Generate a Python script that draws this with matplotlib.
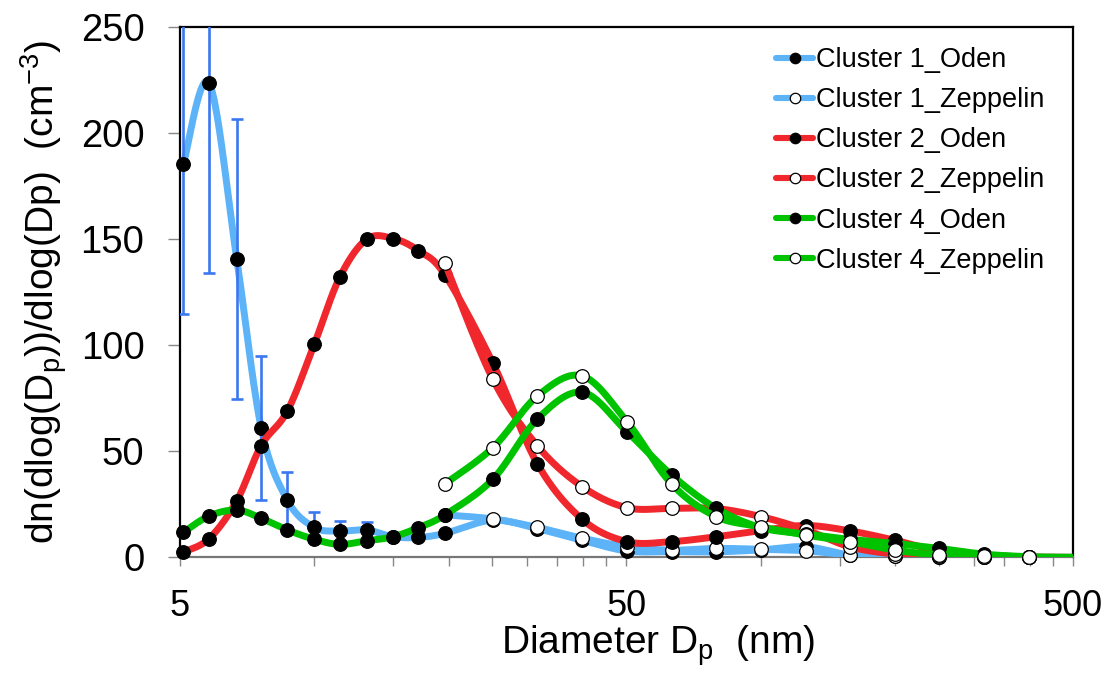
import numpy as np
import matplotlib
matplotlib.use("Agg")
import matplotlib.pyplot as plt
from matplotlib.lines import Line2D
from matplotlib.ticker import FixedLocator, FixedFormatter, NullFormatter

plt.rcParams['font.family'] = ['Liberation Sans', 'DejaVu Sans']
plt.rcParams['mathtext.default'] = 'regular'

# particle diameter bins (nm)
dp_oden = [5.09, 5.81, 6.70, 7.60, 8.70, 10.0, 11.4, 13.1, 15.0, 17.1, 19.6,
           25.1, 31.6, 39.8, 50.1, 63.1, 79.4, 100, 126, 158, 200, 251, 316, 398, 500]
dp_zep = [19.6, 25.1, 31.6, 39.8, 50.1, 63.1, 79.4, 100, 126, 158, 200, 251, 316, 398]

# dN/dlogDp (cm-3)
c1_oden = [185.5, 223.6, 140.6, 61.1, 26.9, 14.1, 12.4, 12.9, 9.7, 9.4, 11.3,
           17.5, 13.5, 8.0, 3.0, 2.7, 2.6, 3.5, 5.0, 1.1, 0.4, 0.1, 0.0, 0.0, 0.0]
c1_oden_err = [70.7, 89.4, 66.0, 34.0, 13.5, 7.1, 4.7, 3.9]
c1_zep = [20.0, 18.1, 14.1, 9.0, 5.0, 3.4, 4.2, 3.8, 3.1, 1.1, 0.5, 0.2, 0.1, 0.0]

c2_oden = [2.4, 8.8, 26.6, 52.7, 69.0, 100.6, 132.1, 150.0, 150.3, 144.6, 133.2,
           91.6, 44.0, 17.9, 7.4, 7.4, 9.7, 12.6, 15.0, 12.5, 8.0, 3.0, 1.0, 0.2, 0.0]
c2_zep = [138.7, 84.0, 52.5, 33.3, 23.4, 23.1, 23.0, 19.2, 13.0, 5.0, 1.5, 0.5, 0.3, 0.1]

c4_oden = [11.8, 19.5, 22.3, 18.4, 12.9, 8.5, 6.1, 7.8, 9.7, 14.0, 20.0,
           36.8, 65.2, 77.8, 59.3, 38.8, 23.1, 14.0, 11.0, 8.5, 6.5, 4.2, 1.5, 0.3, 0.0]
c4_zep = [34.6, 51.7, 76.1, 85.5, 64.0, 34.6, 19.2, 14.4, 10.5, 7.4, 3.4, 1.1, 0.8, 0.2]

blue = '#5CB3F7'
red = '#F0272D'
green = '#00C300'
err_blue = '#3A78F0'


def smooth(xs, ys, n=24):
    # Excel style smoothed line, bezier through the points in log(x)
    lx = np.log10(np.asarray(xs, float))
    y = np.asarray(ys, float)
    px = np.concatenate([[lx[0]], lx, [lx[-1]]])
    py = np.concatenate([[y[0]], y, [y[-1]]])
    t = np.linspace(0, 1, n, endpoint=False)[:, None]
    out = []
    for i in range(1, len(px) - 2):
        p0 = np.array([px[i - 1], py[i - 1]])
        p1 = np.array([px[i], py[i]])
        p2 = np.array([px[i + 1], py[i + 1]])
        p3 = np.array([px[i + 2], py[i + 2]])
        b1 = p1 + (p2 - p0) / 6
        b2 = p2 - (p3 - p1) / 6
        seg = ((1 - t) ** 3 * p1 + 3 * (1 - t) ** 2 * t * b1
               + 3 * (1 - t) * t ** 2 * b2 + t ** 3 * p2)
        out.append(seg)
    out.append(np.array([[lx[-1], y[-1]]]))
    out = np.vstack(out)
    return 10 ** out[:, 0], out[:, 1]


fig = plt.figure(figsize=(11.09, 6.84), dpi=100)
ax = fig.add_axes([0.1623, 0.1852, 0.8052, 0.7753])

series = [
    (dp_oden, c1_oden, blue, 'black', 'Cluster 1_Oden'),
    (dp_zep, c1_zep, blue, 'white', 'Cluster 1_Zeppelin'),
    (dp_oden, c2_oden, red, 'black', 'Cluster 2_Oden'),
    (dp_zep, c2_zep, red, 'white', 'Cluster 2_Zeppelin'),
    (dp_oden, c4_oden, green, 'black', 'Cluster 4_Oden'),
    (dp_zep, c4_zep, green, 'white', 'Cluster 4_Zeppelin'),
]

handles = []
for i, (x, y, col, face, label) in enumerate(series):
    sx, sy = smooth(x, y)
    ax.plot(sx, sy, color=col, lw=5.0, solid_capstyle='butt', zorder=2 + 3 * i)
    # no marker on the 500 nm end point
    nm = len(x) - 1 if x[-1] >= 500 else len(x)
    ax.plot(x[:nm], y[:nm], ls='none', marker='o', ms=9.8, mfc=face, mec='black',
            mew=0.9, zorder=4 + 3 * i, clip_on=False)
    handles.append(Line2D([], [], color=col, lw=4.4, marker='o', ms=7.5, mfc=face,
                          mec='black', mew=0.9, solid_capstyle='round', label=label))

ne = len(c1_oden_err)
ax.errorbar(dp_oden[:ne], c1_oden[:ne], yerr=c1_oden_err, fmt='none', ecolor=err_blue,
            elinewidth=1.9, capsize=4.5, capthick=1.9, zorder=3)

ax.set_xscale('log')
ax.set_xlim(5, 500)
ax.set_ylim(0, 250)

ax.xaxis.set_major_locator(FixedLocator([5, 50, 500]))
ax.xaxis.set_major_formatter(FixedFormatter(['5', '50', '500']))
ax.xaxis.set_minor_locator(FixedLocator([10, 15, 20, 25, 30, 35, 40, 45,
                                         100, 150, 200, 250, 300, 350, 400, 450]))
ax.xaxis.set_minor_formatter(NullFormatter())
ax.set_yticks([0, 50, 100, 150, 200, 250])

ax.tick_params(axis='y', direction='out', length=8.6, width=1, color='#888888',
               labelsize=27.5, pad=17)
ax.tick_params(axis='x', which='both', direction='out', length=6.5, width=1,
               color='#888888', labelsize=26, pad=16)

for side in ['top', 'right', 'left']:
    ax.spines[side].set_color('black')
    ax.spines[side].set_linewidth(1.6)
ax.spines['bottom'].set_color('#777777')
ax.spines['bottom'].set_linewidth(1.6)

ax.set_ylabel('dn(dlog(D$_p$))/dlog(Dp)  (cm$^{-3}$)', fontsize=28)
ax.set_xlabel('Diameter D$_p$  (nm)', fontsize=28)
ax.yaxis.set_label_coords(-0.124, 0.5)
ax.xaxis.set_label_coords(0.535, -0.124)

ax.legend(handles=handles, loc='upper left', bbox_to_anchor=(0.668, 0.962),
          frameon=False, fontsize=19.5, borderaxespad=0, borderpad=0,
          handlelength=1.35, handletextpad=0.1, labelspacing=0.52)

fig.savefig('out.png', dpi=100)
